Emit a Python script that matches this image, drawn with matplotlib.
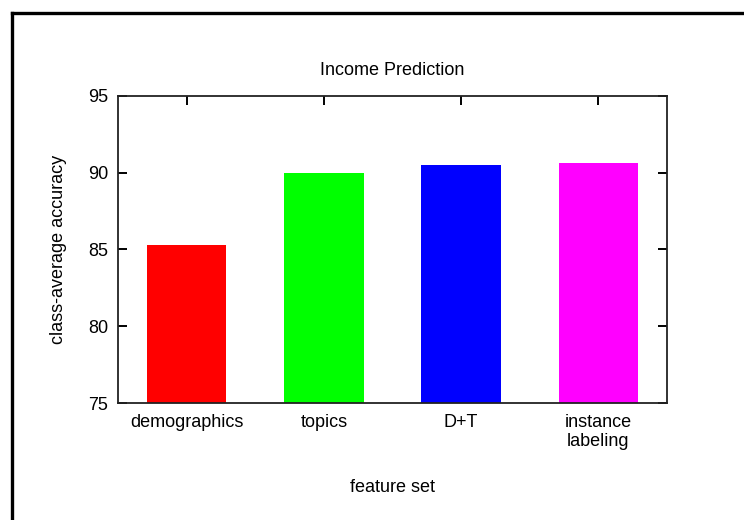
import matplotlib
matplotlib.use("Agg")
import matplotlib.pyplot as plt
from matplotlib.lines import Line2D

plt.rcParams['font.family'] = ['Liberation Sans', 'DejaVu Sans']

# Data
feature_sets = ["demographics", "topics", "D+T", "instance\nlabeling"]
accuracy = [85.27, 90.0, 90.48, 90.64]
bar_colors = ["#ff0000", "#00ff00", "#0000ff", "#ff00ff"]
y_ticks = [75, 80, 85, 90, 95]

W, H = 744, 520
FS = 13
fig = plt.figure(figsize=(W / 100, H / 100), dpi=100)
ax = fig.add_axes([118 / W, 1 - 403 / H, (667 - 118) / W, (403 - 96) / H])

x = list(range(len(feature_sets)))
ax.bar(x, accuracy, width=0.58, color=bar_colors, zorder=2)

ax.set_xlim(-0.5, len(feature_sets) - 0.5)
ax.set_ylim(75, 95)
ax.set_yticks(y_ticks)
ax.set_xticks(x)
ax.set_xticklabels(feature_sets, linespacing=1.12)

ax.tick_params(axis='y', direction='in', length=6.5, width=1.4, left=True, right=True,
               labelsize=FS, pad=7)
ax.tick_params(axis='x', direction='in', length=6.5, width=1.4, bottom=False, top=True,
               labelsize=FS, pad=8)
for s in ax.spines.values():
    s.set_linewidth(1.3)
    s.set_color('#222222')
    s.set_zorder(3)

ax.set_title("Income Prediction", fontsize=FS, pad=15)
ax.set_ylabel("class-average accuracy", fontsize=FS, labelpad=15)
ax.set_xlabel("feature set", fontsize=FS, labelpad=21)

# Outer frame around the page
fw = 2.4
fig.add_artist(Line2D([11.5 / W, 1.0], [1 - 13 / H, 1 - 13 / H], transform=fig.transFigure,
                      color='black', linewidth=fw, solid_capstyle='projecting'))
fig.add_artist(Line2D([11.5 / W, 11.5 / W], [0.0, 1 - 13 / H], transform=fig.transFigure,
                      color='black', linewidth=fw, solid_capstyle='projecting'))

fig.savefig("out.png", dpi=100)
